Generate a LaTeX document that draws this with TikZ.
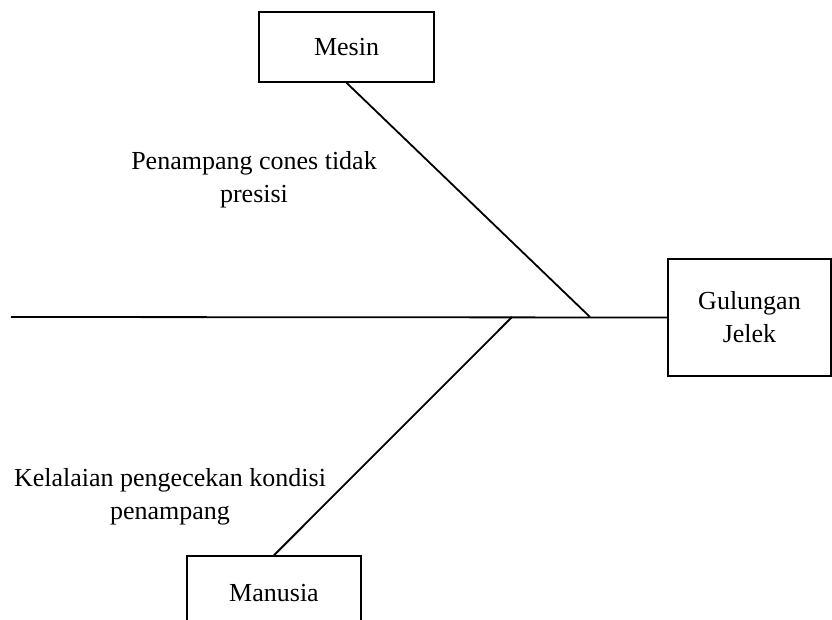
\documentclass[tikz,border=0pt]{standalone}
\usepackage{fontspec}
\setmainfont{Liberation Serif}
\usepackage{tikz}
\usetikzlibrary{positioning}

\tikzset{
  causebox/.style={draw,line width=1.5pt,rectangle,inner sep=0pt,align=center},
  bone/.style={line width=1.8pt},
  note/.style={align=center,inner sep=0pt}
}

\begin{document}
\begin{tikzpicture}[x=1pt,y=-1pt,font=\fontsize{26}{33}\selectfont]
	  \useasboundingbox (0,0) rectangle (832,620);
	  \node (mesin) [causebox,minimum width=175,minimum height=70] at (346.5,47) {Mesin};
	  \node (akibat) [causebox,minimum width=163,minimum height=117] at (749.5,317.5) {Gulungan\\Jelek};
	  \node (manusia) [causebox,minimum width=174,minimum height=74] at (274,593) {Manusia};
	  \coordinate (ekor) at (11,317);
	  \coordinate (j1) at (590,317);
	  \coordinate (j2) at (512,317);
	  % tulang utama dan cabang
	  \draw [bone] (ekor) -- (akibat.west);
	  \draw [bone] (mesin.south) -- (j1);
	  \draw [bone] (manusia.north) -- (j2);
	  \node (s1) [note] at (254,180) {Penampang cones tidak\\presisi};
	  \node (s2) [note] at (170,497) {Kelalaian pengecekan kondisi\\penampang};
	\end{tikzpicture}
\end{document}
